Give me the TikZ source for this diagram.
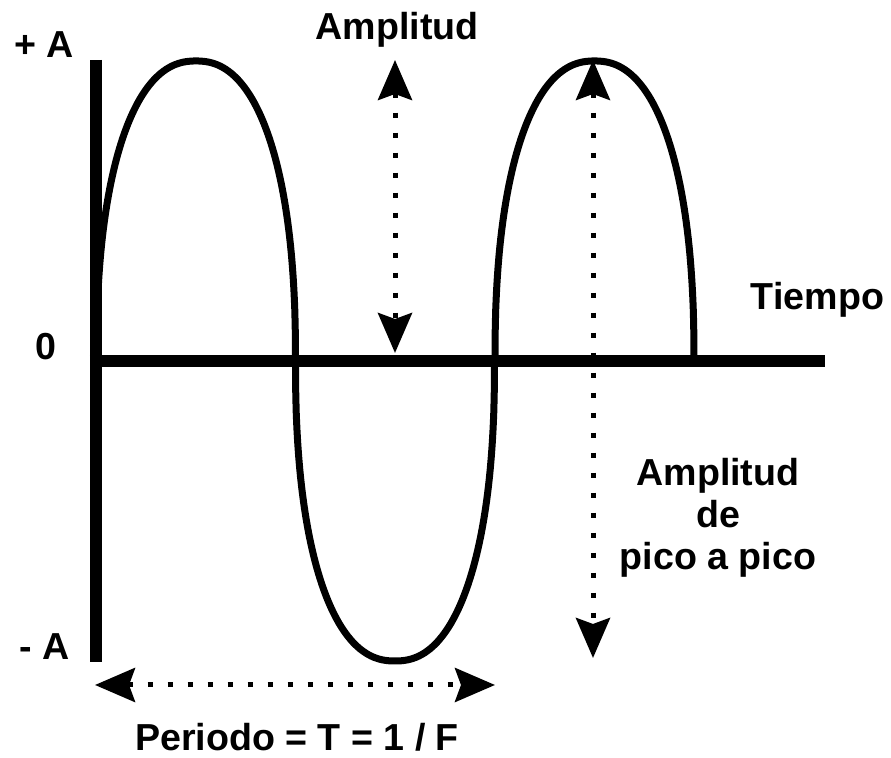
\documentclass[tikz,border=0pt]{standalone}
\usepackage{fontspec}
\setmainfont{Liberation Sans}
\usetikzlibrary{arrows.meta}

\tikzset{
  lbl/.style={font=\bfseries\fontsize{18.8}{21}\selectfont, inner sep=0pt},
  axisline/.style={line width=6pt},
  wave/.style={line width=3.5pt},
  dots/.style={line width=2.5pt, dash pattern=on 2.5pt off 7.5pt,
    >={Stealth[length=20pt, width=17pt, inset=3pt]}}
}

\begin{document}
\begin{tikzpicture}[x=0.5pt, y=0.5pt]
    \useasboundingbox (-96,-397) rectangle (795,361);

    % Plot the wave (three humps)
    \foreach \c/\s in {100/1, 299/-1, 498.5/1}
        \draw[wave, domain=0.01:179.99, samples=120]
            plot ({\c - 99.5*cos(\x)*abs(cos(\x))^(-0.13)}, {\s*300*sin(\x)^0.87});

    % Define the coordinate system
    \coordinate (ytop) at (0,301);
    \coordinate (ybot) at (0,-301);
    \coordinate (xleft) at (-6,0);
    \coordinate (xright) at (729,0);
    \draw[axisline] (ytop) -- (ybot);
    \draw[axisline] (xleft) -- (xright);

    % Axis labels
    \node[lbl, anchor=base] (plusA) at (-52,303) {+ A};
    \node[lbl, anchor=base] (zero) at (-50,1) {0};
    \node[lbl, anchor=base] (minusA) at (-51,-299) {- A};
    \node[lbl, anchor=base] (tiempo) at (721.5,51) {Tiempo};

    % Amplitude arrows
    \coordinate (amptop) at (299,301);
    \coordinate (ampbot) at (299,8);
    \draw[dots, <->] (amptop) -- (ampbot);
    \node[lbl, anchor=base] (amp) at (301,321) {Amplitud};

    \coordinate (pptop) at (497,301);
    \coordinate (ppbot) at (497,-297);
    \draw[dots, <->] (pptop) -- (ppbot);
    \node[lbl, anchor=north, align=center] (pp) at (622,-97) {Amplitud\\de\\pico a pico};

    % Period arrow
    \coordinate (perleft) at (-1,-324);
    \coordinate (perright) at (399,-324);
    \draw[dots, <->] (perleft) -- (perright);
    \node[lbl, anchor=base] (periodo) at (201,-390) {Periodo = T = 1 / F};

\end{tikzpicture}
\end{document}
